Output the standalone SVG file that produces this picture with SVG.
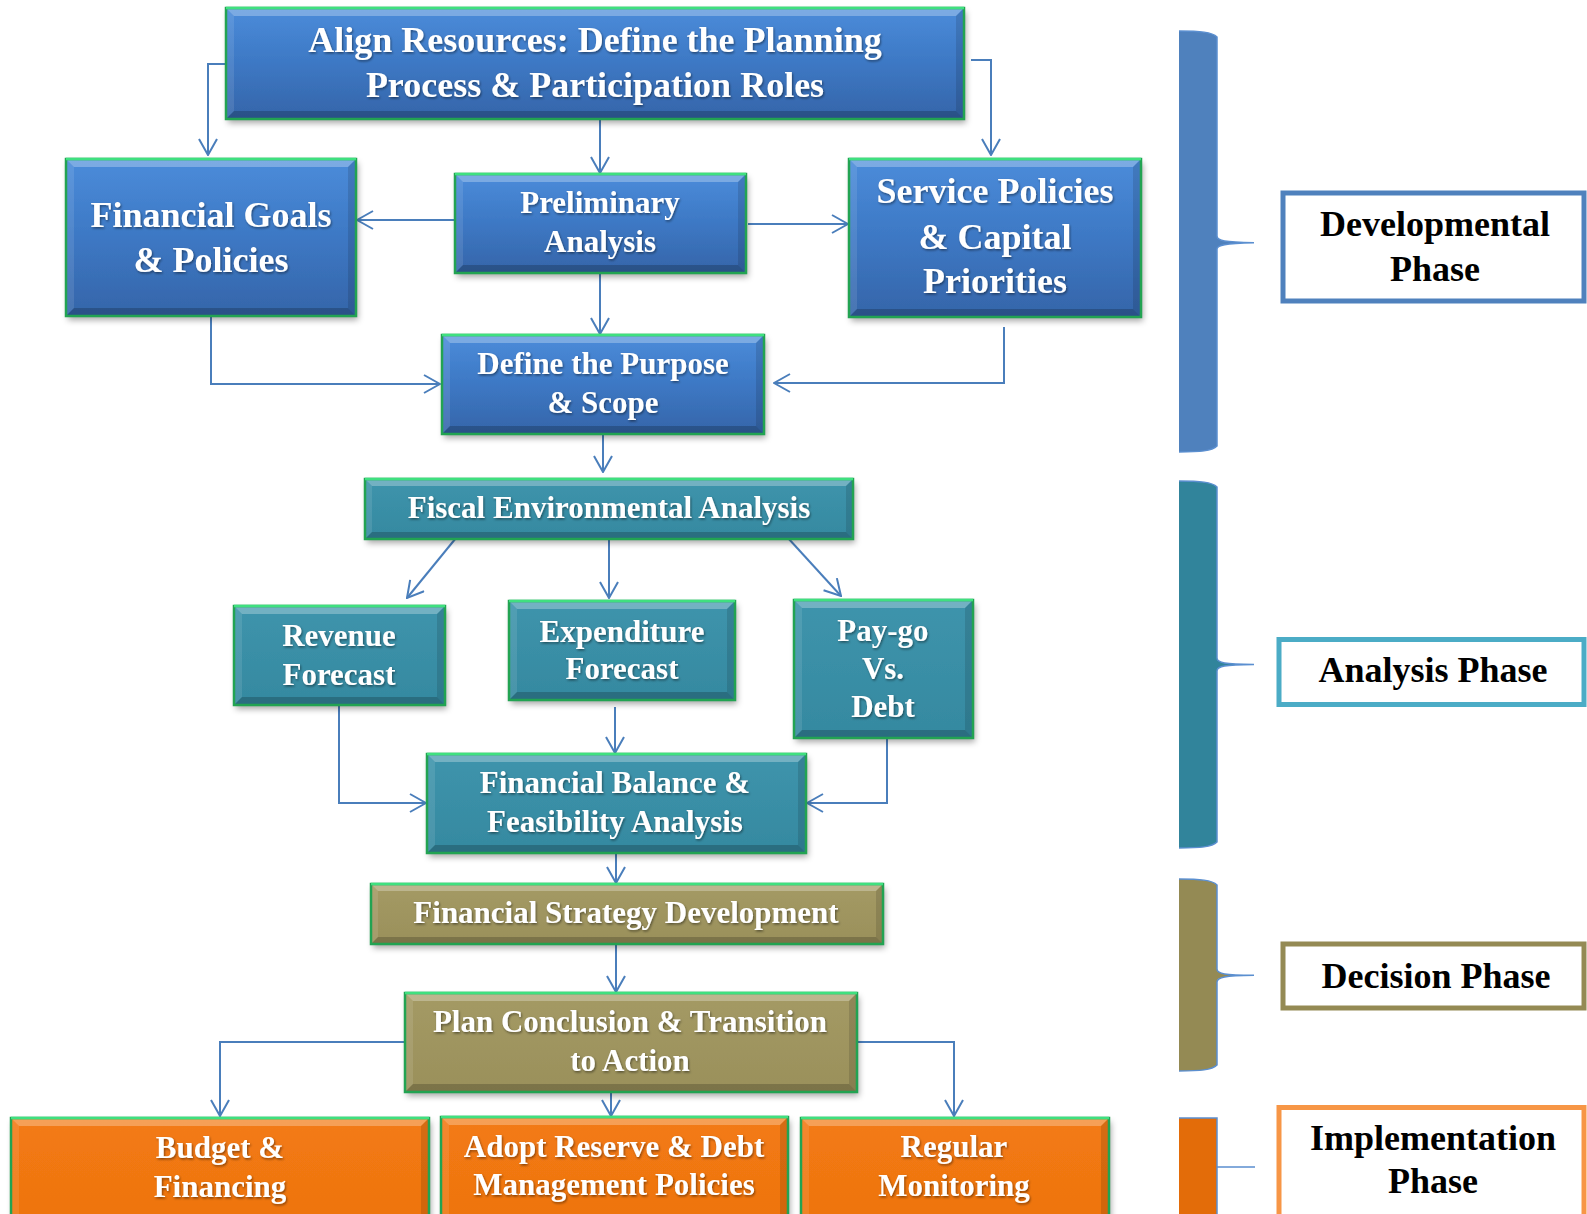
<svg xmlns="http://www.w3.org/2000/svg" width="1587" height="1214" viewBox="0 0 1587 1214">
<style>
.t{font-family:"Liberation Serif","Times New Roman",serif;font-weight:bold;fill:#fff;text-anchor:middle}
.big{font-size:36px}
.sm{font-size:31px}
.lab{font-family:"Liberation Serif","Times New Roman",serif;font-weight:bold;fill:#000;text-anchor:middle;font-size:36px}
.bd{fill:none;stroke:#22a352;stroke-width:2.5}
.hl{fill:#fff;fill-opacity:.28}
.sl{fill:#fff;fill-opacity:.1}
.dk{fill:#000;fill-opacity:.2}
.dr{fill:#000;fill-opacity:.12}
.tl{stroke:#3fe07f;stroke-width:2.5}
.c{fill:none;stroke:#4a7ebb;stroke-width:2;marker-end:url(#ah)}
.br{fill:none;stroke:#5b8fd0;stroke-width:1.5}
</style>
<defs>
<linearGradient id="gb" x1="0" y1="0" x2="0" y2="1"><stop offset="0" stop-color="#4b8cda"/><stop offset="0.5" stop-color="#3d78c4"/><stop offset="1" stop-color="#3565a9"/></linearGradient>
<linearGradient id="gt" x1="0" y1="0" x2="0" y2="1"><stop offset="0" stop-color="#3e94ac"/><stop offset="1" stop-color="#3589a0"/></linearGradient>
<linearGradient id="go" x1="0" y1="0" x2="0" y2="1"><stop offset="0" stop-color="#a49a65"/><stop offset="1" stop-color="#9a905a"/></linearGradient>
<linearGradient id="gr" x1="0" y1="0" x2="0" y2="1"><stop offset="0" stop-color="#f37b13"/><stop offset="1" stop-color="#ed720f"/></linearGradient>
<filter id="sh" x="-5%" y="-10%" width="110%" height="130%"><feDropShadow dx="2" dy="4" stdDeviation="3" flood-color="#000" flood-opacity="0.35"/></filter>
<filter id="ts" x="-5%" y="-20%" width="110%" height="140%"><feDropShadow dx="1" dy="1.5" stdDeviation="1" flood-color="#000" flood-opacity="0.45"/></filter>
<marker id="ah" viewBox="0 0 18 20" refX="17" refY="10" markerWidth="18" markerHeight="20" markerUnits="userSpaceOnUse" orient="auto"><path d="M1,1 L17,10 L1,19" fill="none" stroke="#4a7ebb" stroke-width="2"/></marker>
</defs>
<rect width="1587" height="1214" fill="#fff"/>

<!-- Phase braces -->
<g id="brace-dev">
<path d="M1179,31 C1200,31 1212,32 1217,37 V236 C1217,241 1225,242 1254,242.7 C1225,243.5 1217,245 1217,249 V446 C1212,451 1200,452 1179,452 Z" fill="#4f81bd"/>
<path class="br" d="M1179,31 C1200,31 1212,32 1217,37 V236 C1217,241 1225,242 1254,242.7 C1225,243.5 1217,245 1217,249 V446 C1212,451 1200,452 1179,452"/>
</g>
<g id="brace-analysis">
<path d="M1179,481 C1200,481 1212,482 1217,487 V658 C1217,663 1225,664 1254,664.5 C1225,665 1217,666 1217,671 V842 C1212,847 1200,848 1179,848 Z" fill="#31849b"/>
<path class="br" d="M1179,481 C1200,481 1212,482 1217,487 V658 C1217,663 1225,664 1254,664.5 C1225,665 1217,666 1217,671 V842 C1212,847 1200,848 1179,848"/>
</g>
<g id="brace-decision">
<path d="M1179,879 C1200,879 1212,880 1217,885 V969 C1217,974 1225,975 1254,975.3 C1225,975.8 1217,977 1217,982 V1065 C1212,1070 1200,1071 1179,1071 Z" fill="#948a54"/>
<path class="br" d="M1179,879 C1200,879 1212,880 1217,885 V969 C1217,974 1225,975 1254,975.3 C1225,975.8 1217,977 1217,982 V1065 C1212,1070 1200,1071 1179,1071"/>
</g>
<g id="brace-impl">
<rect x="1179" y="1118" width="38" height="100" fill="#e36c09"/>
<path class="br" d="M1179,1118 H1217 V1218 M1217,1167 H1255"/>
</g>

<!-- Phase labels -->
<g id="label-dev">
<rect x="1283" y="193" width="301" height="108" fill="#fff" stroke="#4f81bd" stroke-width="5"/>
<text class="lab" x="1435" y="236">Developmental</text>
<text class="lab" x="1435" y="281">Phase</text>
</g>
<g id="label-analysis">
<rect x="1279" y="639.5" width="305" height="65" fill="#fff" stroke="#4bacc6" stroke-width="5"/>
<text class="lab" x="1433" y="682">Analysis Phase</text>
</g>
<g id="label-decision">
<rect x="1283" y="944" width="301" height="64" fill="#fff" stroke="#948a54" stroke-width="5"/>
<text class="lab" x="1436" y="988">Decision Phase</text>
</g>
<g id="label-impl">
<rect x="1279" y="1107.5" width="305" height="120" fill="#fff" stroke="#f79646" stroke-width="5"/>
<text class="lab" x="1433" y="1150">Implementation</text>
<text class="lab" x="1433" y="1193">Phase</text>
</g>

<!-- Connectors -->
<g id="connectors">
<path class="c" d="M226,64 H208 V155"/>
<path class="c" d="M600,119 V173"/>
<path class="c" d="M971,60 H991 V155"/>
<path class="c" d="M455,220 H357"/>
<path class="c" d="M748,224 H848"/>
<path class="c" d="M600,273 V334"/>
<path class="c" d="M211,316 V384 H440"/>
<path class="c" d="M1004,327 V383 H774"/>
<path class="c" d="M603,434 V472"/>
<path class="c" d="M456,538 L407,598"/>
<path class="c" d="M609,539 V598"/>
<path class="c" d="M788,538 L841,596"/>
<path class="c" d="M339,705 V803 H426"/>
<path class="c" d="M615,707 V753"/>
<path class="c" d="M970,730 H887 V803 H807"/>
<path class="c" d="M616,853 V883"/>
<path class="c" d="M616,944 V992"/>
<path class="c" d="M405,1042 H220 V1116"/>
<path class="c" d="M611,1088 V1116"/>
<path class="c" d="M857,1042 H954 V1116"/>
</g>

<!-- Nodes -->
<g id="n-align">
<rect x="226" y="8" width="738" height="111" fill="url(#gb)" filter="url(#sh)"/>
<polygon class="hl" points="226,8 964,8 956,16 234,16"/><polygon class="sl" points="226,8 234,16 234,111 226,119"/><polygon class="dk" points="226,119 234,111 956,111 964,119"/><polygon class="dr" points="964,8 964,119 956,111 956,16"/>
<rect class="bd" x="226" y="8" width="738" height="111"/><line class="tl" x1="226" y1="8" x2="964" y2="8"/>
<g filter="url(#ts)"><text class="t big" x="595" y="52">Align Resources: Define the Planning</text><text class="t big" x="595" y="97">Process &amp; Participation Roles</text></g>
</g>
<g id="n-fingoals">
<rect x="66" y="159" width="290" height="157" fill="url(#gb)" filter="url(#sh)"/>
<polygon class="hl" points="66,159 356,159 348,167 74,167"/><polygon class="sl" points="66,159 74,167 74,308 66,316"/><polygon class="dk" points="66,316 74,308 348,308 356,316"/><polygon class="dr" points="356,159 356,316 348,308 348,167"/>
<rect class="bd" x="66" y="159" width="290" height="157"/><line class="tl" x1="66" y1="159" x2="356" y2="159"/>
<g filter="url(#ts)"><text class="t big" x="211" y="227">Financial Goals</text><text class="t big" x="211" y="272">&amp; Policies</text></g>
</g>
<g id="n-prelim">
<rect x="455" y="174" width="291" height="99" fill="url(#gb)" filter="url(#sh)"/>
<polygon class="hl" points="455,174 746,174 738,182 463,182"/><polygon class="sl" points="455,174 463,182 463,265 455,273"/><polygon class="dk" points="455,273 463,265 738,265 746,273"/><polygon class="dr" points="746,174 746,273 738,265 738,182"/>
<rect class="bd" x="455" y="174" width="291" height="99"/><line class="tl" x1="455" y1="174" x2="746" y2="174"/>
<g filter="url(#ts)"><text class="t sm" x="600" y="213">Preliminary</text><text class="t sm" x="600" y="252">Analysis</text></g>
</g>
<g id="n-service">
<rect x="849" y="159" width="292" height="158" fill="url(#gb)" filter="url(#sh)"/>
<polygon class="hl" points="849,159 1141,159 1133,167 857,167"/><polygon class="sl" points="849,159 857,167 857,309 849,317"/><polygon class="dk" points="849,317 857,309 1133,309 1141,317"/><polygon class="dr" points="1141,159 1141,317 1133,309 1133,167"/>
<rect class="bd" x="849" y="159" width="292" height="158"/><line class="tl" x1="849" y1="159" x2="1141" y2="159"/>
<g filter="url(#ts)"><text class="t big" x="995" y="203">Service Policies</text><text class="t big" x="995" y="249">&amp; Capital</text><text class="t big" x="995" y="293">Priorities</text></g>
</g>
<g id="n-define">
<rect x="442" y="335" width="322" height="99" fill="url(#gb)" filter="url(#sh)"/>
<polygon class="hl" points="442,335 764,335 756,343 450,343"/><polygon class="sl" points="442,335 450,343 450,426 442,434"/><polygon class="dk" points="442,434 450,426 756,426 764,434"/><polygon class="dr" points="764,335 764,434 756,426 756,343"/>
<rect class="bd" x="442" y="335" width="322" height="99"/><line class="tl" x1="442" y1="335" x2="764" y2="335"/>
<g filter="url(#ts)"><text class="t sm" x="603" y="374">Define the Purpose</text><text class="t sm" x="603" y="413">&amp; Scope</text></g>
</g>
<g id="n-fiscal">
<rect x="365" y="479" width="488" height="60" fill="url(#gt)" filter="url(#sh)"/>
<polygon class="hl" points="365,479 853,479 846,486 372,486"/><polygon class="sl" points="365,479 372,486 372,532 365,539"/><polygon class="dk" points="365,539 372,532 846,532 853,539"/><polygon class="dr" points="853,479 853,539 846,532 846,486"/>
<rect class="bd" x="365" y="479" width="488" height="60"/><line class="tl" x1="365" y1="479" x2="853" y2="479"/>
<g filter="url(#ts)"><text class="t sm" x="609" y="518">Fiscal Environmental Analysis</text></g>
</g>
<g id="n-revenue">
<rect x="234" y="606" width="211" height="99" fill="url(#gt)" filter="url(#sh)"/>
<polygon class="hl" points="234,606 445,606 437,614 242,614"/><polygon class="sl" points="234,606 242,614 242,697 234,705"/><polygon class="dk" points="234,705 242,697 437,697 445,705"/><polygon class="dr" points="445,606 445,705 437,697 437,614"/>
<rect class="bd" x="234" y="606" width="211" height="99"/><line class="tl" x1="234" y1="606" x2="445" y2="606"/>
<g filter="url(#ts)"><text class="t sm" x="339" y="646">Revenue</text><text class="t sm" x="339" y="685">Forecast</text></g>
</g>
<g id="n-expend">
<rect x="509" y="601" width="226" height="99" fill="url(#gt)" filter="url(#sh)"/>
<polygon class="hl" points="509,601 735,601 727,609 517,609"/><polygon class="sl" points="509,601 517,609 517,692 509,700"/><polygon class="dk" points="509,700 517,692 727,692 735,700"/><polygon class="dr" points="735,601 735,700 727,692 727,609"/>
<rect class="bd" x="509" y="601" width="226" height="99"/><line class="tl" x1="509" y1="601" x2="735" y2="601"/>
<g filter="url(#ts)"><text class="t sm" x="622" y="642">Expenditure</text><text class="t sm" x="622" y="679">Forecast</text></g>
</g>
<g id="n-paygo">
<rect x="794" y="600" width="179" height="138" fill="url(#gt)" filter="url(#sh)"/>
<polygon class="hl" points="794,600 973,600 965,608 802,608"/><polygon class="sl" points="794,600 802,608 802,730 794,738"/><polygon class="dk" points="794,738 802,730 965,730 973,738"/><polygon class="dr" points="973,600 973,738 965,730 965,608"/>
<rect class="bd" x="794" y="600" width="179" height="138"/><line class="tl" x1="794" y1="600" x2="973" y2="600"/>
<g filter="url(#ts)"><text class="t sm" x="883" y="641">Pay-go</text><text class="t sm" x="883" y="679">Vs.</text><text class="t sm" x="883" y="717">Debt</text></g>
</g>
<g id="n-finbal">
<rect x="427" y="754" width="379" height="99" fill="url(#gt)" filter="url(#sh)"/>
<polygon class="hl" points="427,754 806,754 798,762 435,762"/><polygon class="sl" points="427,754 435,762 435,845 427,853"/><polygon class="dk" points="427,853 435,845 798,845 806,853"/><polygon class="dr" points="806,754 806,853 798,845 798,762"/>
<rect class="bd" x="427" y="754" width="379" height="99"/><line class="tl" x1="427" y1="754" x2="806" y2="754"/>
<g filter="url(#ts)"><text class="t sm" x="615" y="793">Financial Balance &amp;</text><text class="t sm" x="615" y="832">Feasibility Analysis</text></g>
</g>
<g id="n-strategy">
<rect x="371" y="884" width="512" height="60" fill="url(#go)" filter="url(#sh)"/>
<polygon class="hl" points="371,884 883,884 876,891 378,891"/><polygon class="sl" points="371,884 378,891 378,937 371,944"/><polygon class="dk" points="371,944 378,937 876,937 883,944"/><polygon class="dr" points="883,884 883,944 876,937 876,891"/>
<rect class="bd" x="371" y="884" width="512" height="60"/><line class="tl" x1="371" y1="884" x2="883" y2="884"/>
<g filter="url(#ts)"><text class="t sm" x="626" y="923">Financial Strategy Development</text></g>
</g>
<g id="n-plan">
<rect x="405" y="993" width="452" height="99" fill="url(#go)" filter="url(#sh)"/>
<polygon class="hl" points="405,993 857,993 849,1001 413,1001"/><polygon class="sl" points="405,993 413,1001 413,1084 405,1092"/><polygon class="dk" points="405,1092 413,1084 849,1084 857,1092"/><polygon class="dr" points="857,993 857,1092 849,1084 849,1001"/>
<rect class="bd" x="405" y="993" width="452" height="99"/><line class="tl" x1="405" y1="993" x2="857" y2="993"/>
<g filter="url(#ts)"><text class="t sm" x="630" y="1032">Plan Conclusion &amp; Transition</text><text class="t sm" x="630" y="1071">to Action</text></g>
</g>
<g id="n-budget">
<rect x="11" y="1118" width="418" height="122" fill="url(#gr)" filter="url(#sh)"/>
<polygon class="hl" points="11,1118 429,1118 421,1126 19,1126"/><polygon class="sl" points="11,1118 19,1126 19,1240 11,1240"/><polygon class="dr" points="429,1118 429,1240 421,1240 421,1126"/>
<rect class="bd" x="11" y="1118" width="418" height="122"/><line class="tl" x1="11" y1="1118" x2="429" y2="1118"/>
<g filter="url(#ts)"><text class="t sm" x="220" y="1158">Budget &amp;</text><text class="t sm" x="220" y="1197">Financing</text></g>
</g>
<g id="n-adopt">
<rect x="441" y="1117" width="347" height="123" fill="url(#gr)" filter="url(#sh)"/>
<polygon class="hl" points="441,1117 788,1117 780,1125 449,1125"/><polygon class="sl" points="441,1117 449,1125 449,1240 441,1240"/><polygon class="dr" points="788,1117 788,1240 780,1240 780,1125"/>
<rect class="bd" x="441" y="1117" width="347" height="123"/><line class="tl" x1="441" y1="1117" x2="788" y2="1117"/>
<g filter="url(#ts)"><text class="t sm" x="614" y="1157">Adopt Reserve &amp; Debt</text><text class="t sm" x="614" y="1195">Management Policies</text></g>
</g>
<g id="n-regular">
<rect x="801" y="1118" width="308" height="122" fill="url(#gr)" filter="url(#sh)"/>
<polygon class="hl" points="801,1118 1109,1118 1101,1126 809,1126"/><polygon class="sl" points="801,1118 809,1126 809,1240 801,1240"/><polygon class="dr" points="1109,1118 1109,1240 1101,1240 1101,1126"/>
<rect class="bd" x="801" y="1118" width="308" height="122"/><line class="tl" x1="801" y1="1118" x2="1109" y2="1118"/>
<g filter="url(#ts)"><text class="t sm" x="954" y="1157">Regular</text><text class="t sm" x="954" y="1196">Monitoring</text></g>
</g>
</svg>
